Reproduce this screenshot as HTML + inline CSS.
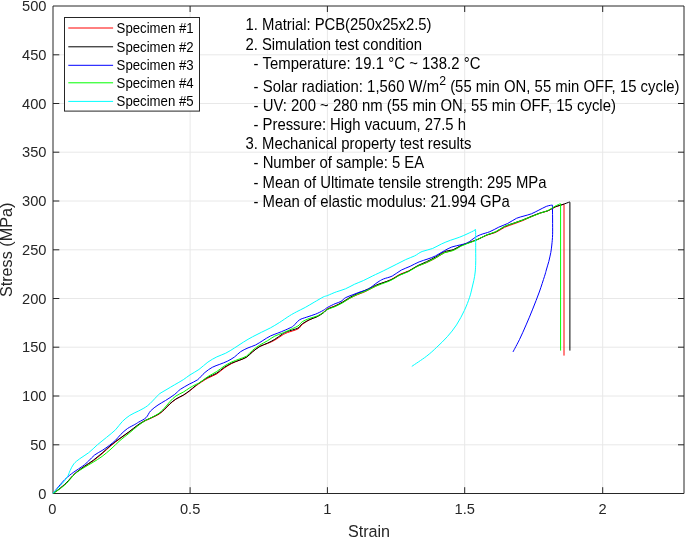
<!DOCTYPE html>
<html><head><meta charset="utf-8"><title>Stress-Strain</title>
<style>html,body{margin:0;padding:0;background:#fff;overflow:hidden}body{width:685px;height:538px;position:relative;font-family:"Liberation Sans",sans-serif}</style>
</head><body>
<svg width="685" height="538" viewBox="0 0 685 538" style="position:absolute;left:0;top:0;will-change:transform">
<rect x="0" y="0" width="685" height="538" fill="#ffffff"/>
<g stroke="#e8e8e8" stroke-width="1" fill="none">
<line x1="190.1" y1="6.0" x2="190.1" y2="493.5"/>
<line x1="327.4" y1="6.0" x2="327.4" y2="493.5"/>
<line x1="464.7" y1="6.0" x2="464.7" y2="493.5"/>
<line x1="602.7" y1="6.0" x2="602.7" y2="493.5"/>
<line x1="53.0" y1="444.8" x2="684.0" y2="444.8"/>
<line x1="53.0" y1="396.0" x2="684.0" y2="396.0"/>
<line x1="53.0" y1="347.2" x2="684.0" y2="347.2"/>
<line x1="53.0" y1="298.5" x2="684.0" y2="298.5"/>
<line x1="53.0" y1="249.8" x2="684.0" y2="249.8"/>
<line x1="53.0" y1="201.0" x2="684.0" y2="201.0"/>
<line x1="53.0" y1="152.2" x2="684.0" y2="152.2"/>
<line x1="53.0" y1="103.5" x2="684.0" y2="103.5"/>
<line x1="53.0" y1="54.8" x2="684.0" y2="54.8"/>
</g>
<path d="M53.0,6.0 H684.0 V493.5" stroke="#262626" stroke-width="1" fill="none"/>
<path d="M53.0,6.0 V493.5 H684.0" stroke="#262626" stroke-width="1" fill="none"/>
<g stroke="#262626" stroke-width="1" fill="none">
<line x1="190.1" y1="493.5" x2="190.1" y2="487.2"/>
<line x1="190.1" y1="6.0" x2="190.1" y2="12.0"/>
<line x1="327.4" y1="493.5" x2="327.4" y2="487.2"/>
<line x1="327.4" y1="6.0" x2="327.4" y2="12.0"/>
<line x1="464.7" y1="493.5" x2="464.7" y2="487.2"/>
<line x1="464.7" y1="6.0" x2="464.7" y2="12.0"/>
<line x1="602.7" y1="493.5" x2="602.7" y2="487.2"/>
<line x1="602.7" y1="6.0" x2="602.7" y2="12.0"/>
<line x1="53.0" y1="444.8" x2="59.3" y2="444.8"/>
<line x1="684.0" y1="444.8" x2="678.0" y2="444.8"/>
<line x1="53.0" y1="396.0" x2="59.3" y2="396.0"/>
<line x1="684.0" y1="396.0" x2="678.0" y2="396.0"/>
<line x1="53.0" y1="347.2" x2="59.3" y2="347.2"/>
<line x1="684.0" y1="347.2" x2="678.0" y2="347.2"/>
<line x1="53.0" y1="298.5" x2="59.3" y2="298.5"/>
<line x1="684.0" y1="298.5" x2="678.0" y2="298.5"/>
<line x1="53.0" y1="249.8" x2="59.3" y2="249.8"/>
<line x1="684.0" y1="249.8" x2="678.0" y2="249.8"/>
<line x1="53.0" y1="201.0" x2="59.3" y2="201.0"/>
<line x1="684.0" y1="201.0" x2="678.0" y2="201.0"/>
<line x1="53.0" y1="152.2" x2="59.3" y2="152.2"/>
<line x1="684.0" y1="152.2" x2="678.0" y2="152.2"/>
<line x1="53.0" y1="103.5" x2="59.3" y2="103.5"/>
<line x1="684.0" y1="103.5" x2="678.0" y2="103.5"/>
<line x1="53.0" y1="54.8" x2="59.3" y2="54.8"/>
<line x1="684.0" y1="54.8" x2="678.0" y2="54.8"/>
</g>
<path d="M53.0,493.3 C54.0,492.6 56.7,490.9 58.9,489.2 C61.1,487.4 63.7,485.4 66.4,482.7 C69.1,480.1 72.3,476.0 75.3,473.4 C78.3,470.7 81.2,469.0 84.2,466.9 C87.2,464.8 90.2,463.1 93.2,460.9 C96.2,458.7 99.1,456.3 102.1,453.7 C105.1,451.2 108.0,448.1 111.0,445.6 C114.0,443.1 116.9,440.9 119.9,438.7 C122.9,436.5 125.9,434.4 128.9,432.2 C131.9,430.0 135.1,427.2 137.8,425.3 C140.5,423.4 143.3,421.9 145.2,420.8 C147.1,419.8 147.0,420.1 149.1,419.1 C151.2,418.1 155.5,416.2 158.0,414.7 C160.5,413.2 162.0,411.9 164.0,410.1 C166.0,408.3 167.9,405.8 169.9,404.0 C171.9,402.2 173.7,400.7 175.9,399.2 C178.1,397.8 181.1,396.6 183.3,395.3 C185.5,393.9 187.3,392.7 189.3,391.2 C191.3,389.7 193.4,387.8 195.2,386.4 C197.0,385.1 197.9,384.4 200.0,383.0 C202.1,381.6 205.1,379.6 207.9,378.1 C210.7,376.6 214.1,375.6 216.8,373.9 C219.5,372.2 221.7,369.8 224.2,368.1 C226.7,366.4 229.2,364.8 231.7,363.5 C234.2,362.2 236.6,361.4 239.1,360.4 C241.6,359.3 244.3,358.5 246.5,357.1 C248.7,355.6 250.3,353.5 252.5,351.7 C254.7,349.9 257.4,347.8 259.9,346.4 C262.4,345.0 264.9,344.6 267.4,343.5 C269.9,342.5 272.3,341.5 274.8,340.1 C277.3,338.7 280.2,336.4 282.3,335.2 C284.4,333.9 284.8,333.7 287.4,332.6 C290.0,331.6 295.4,330.3 297.9,329.0 C300.4,327.6 300.3,326.0 302.3,324.5 C304.3,322.9 307.3,321.0 309.8,319.7 C312.3,318.4 315.0,317.6 317.2,316.4 C319.4,315.2 321.5,313.8 323.2,312.5 C324.9,311.3 325.6,309.9 327.6,308.8 C329.6,307.7 332.6,306.9 335.1,305.9 C337.6,304.8 340.0,303.7 342.5,302.4 C345.0,301.1 347.4,299.5 349.9,298.2 C352.4,296.9 354.9,295.8 357.4,294.7 C359.9,293.7 362.3,292.9 364.8,291.8 C367.3,290.7 370.0,289.1 372.3,287.9 C374.6,286.7 375.8,286.0 378.9,284.6 C382.0,283.2 387.3,281.4 390.8,279.7 C394.3,278.0 396.8,275.9 399.8,274.4 C402.8,273.0 405.7,272.3 408.7,270.9 C411.7,269.5 414.6,267.4 417.6,266.1 C420.6,264.7 423.5,264.0 426.5,262.6 C429.5,261.3 432.5,259.8 435.5,258.2 C438.5,256.5 441.4,254.1 444.4,252.7 C447.4,251.4 450.6,251.4 453.3,250.2 C456.0,249.0 458.2,247.0 460.8,245.8 C463.4,244.5 466.0,243.6 468.9,242.5 C471.8,241.4 474.9,240.5 477.9,239.2 C480.9,238.0 483.8,236.2 486.8,235.1 C489.8,233.9 492.7,233.7 495.7,232.4 C498.7,231.1 501.6,228.7 504.6,227.3 C507.6,225.9 510.6,225.1 513.6,224.0 C516.6,222.9 519.5,221.9 522.5,220.7 C525.5,219.5 528.4,218.0 531.4,216.7 C534.4,215.5 537.7,214.0 540.4,213.0 C543.1,212.1 545.3,211.9 547.8,210.9 C550.3,209.9 552.6,208.1 555.2,207.0 C557.8,206.0 562.0,204.8 563.4,204.4 L564.0,204.3 L564.0,355.6" fill="none" stroke="#ff0000" stroke-width="1.0" stroke-linejoin="round"/>
<path d="M53.0,493.3 C54.0,492.6 56.7,491.0 58.9,489.3 C61.1,487.5 63.7,485.5 66.4,482.8 C69.1,480.1 72.3,475.9 75.3,473.2 C78.3,470.5 81.2,468.6 84.2,466.4 C87.2,464.3 90.2,462.5 93.2,460.3 C96.2,458.0 99.1,455.6 102.1,453.1 C105.1,450.5 108.0,447.5 111.0,445.0 C114.0,442.6 116.9,440.5 119.9,438.3 C122.9,436.1 125.9,434.1 128.9,431.9 C131.9,429.7 135.1,426.9 137.8,425.0 C140.5,423.1 143.3,421.4 145.2,420.4 C147.1,419.4 147.0,419.7 149.1,418.7 C151.2,417.7 155.5,415.8 158.0,414.3 C160.5,412.8 162.0,411.5 164.0,409.7 C166.0,408.0 167.9,405.5 169.9,403.7 C171.9,401.9 173.7,400.5 175.9,399.0 C178.1,397.6 181.1,396.4 183.3,395.1 C185.5,393.7 187.3,392.4 189.3,390.9 C191.3,389.4 193.4,387.4 195.2,386.0 C197.0,384.6 197.9,383.9 200.0,382.4 C202.1,381.0 205.1,378.9 207.9,377.3 C210.7,375.8 214.1,374.7 216.8,373.1 C219.5,371.4 221.7,369.1 224.2,367.4 C226.7,365.8 229.2,364.3 231.7,363.1 C234.2,361.9 236.6,361.3 239.1,360.3 C241.6,359.3 244.3,358.6 246.5,357.2 C248.7,355.8 250.3,353.7 252.5,351.9 C254.7,350.1 257.4,347.9 259.9,346.4 C262.4,345.0 264.9,344.4 267.4,343.2 C269.9,342.0 272.3,340.9 274.8,339.3 C277.3,337.8 280.2,335.4 282.3,334.1 C284.4,332.8 284.8,332.5 287.4,331.5 C290.0,330.5 295.4,329.3 297.9,328.1 C300.4,326.8 300.3,325.2 302.3,323.8 C304.3,322.4 307.3,320.7 309.8,319.5 C312.3,318.4 315.0,317.8 317.2,316.7 C319.4,315.6 321.5,314.2 323.2,313.0 C324.9,311.8 325.6,310.4 327.6,309.2 C329.6,308.1 332.6,307.3 335.1,306.1 C337.6,304.9 340.0,303.6 342.5,302.1 C345.0,300.7 347.4,298.8 349.9,297.4 C352.4,295.9 354.9,294.7 357.4,293.5 C359.9,292.4 362.3,291.6 364.8,290.5 C367.3,289.4 370.0,288.0 372.3,286.9 C374.6,285.9 375.8,285.2 378.9,284.0 C382.0,282.9 387.3,281.4 390.8,279.9 C394.3,278.4 396.8,276.3 399.8,274.9 C402.8,273.4 405.7,272.7 408.7,271.2 C411.7,269.6 414.6,267.3 417.6,265.7 C420.6,264.2 423.5,263.2 426.5,261.7 C429.5,260.3 432.5,258.7 435.5,257.0 C438.5,255.3 441.4,252.9 444.4,251.7 C447.4,250.5 450.6,250.6 453.3,249.6 C456.0,248.6 458.2,246.8 460.8,245.6 C463.4,244.5 466.0,243.7 468.9,242.7 C471.8,241.7 474.9,240.7 477.9,239.4 C480.9,238.2 483.8,236.2 486.8,235.0 C489.8,233.7 492.7,233.4 495.7,231.9 C498.7,230.5 501.6,227.9 504.6,226.5 C507.6,225.0 510.6,224.2 513.6,223.2 C516.6,222.1 519.5,221.1 522.5,220.0 C525.5,218.9 528.4,217.5 531.4,216.3 C534.4,215.2 537.7,213.8 540.4,212.9 C543.1,211.9 545.3,211.8 547.8,210.8 C550.3,209.8 552.7,207.9 555.2,206.8 C557.7,205.8 560.6,205.2 563.0,204.4 C565.4,203.6 568.4,202.4 569.5,202.0 L569.9,202.2 L569.9,350.6" fill="none" stroke="#000000" stroke-width="1.0" stroke-linejoin="round"/>
<path d="M53.0,493.3 C55.0,491.0 61.4,483.0 64.9,479.5 C68.4,476.0 70.8,474.3 73.8,472.1 C76.8,469.9 80.2,468.0 82.7,466.1 C85.2,464.2 86.7,462.8 88.7,460.9 C90.7,459.0 92.4,456.7 94.6,455.0 C96.8,453.3 99.6,452.1 102.1,450.5 C104.6,448.9 107.3,447.0 109.5,445.3 C111.7,443.6 113.6,442.1 115.5,440.3 C117.4,438.5 118.8,436.3 120.8,434.4 C122.8,432.4 125.1,430.2 127.4,428.6 C129.7,427.0 132.9,425.6 134.8,424.5 C136.7,423.4 136.8,423.2 138.7,422.1 C140.6,421.0 144.1,419.5 146.1,417.6 C148.1,415.7 148.6,413.0 150.6,410.9 C152.6,408.8 155.5,406.7 158.0,405.0 C160.5,403.3 162.8,402.2 165.5,400.5 C168.2,398.8 171.9,396.5 174.4,394.6 C176.9,392.7 177.9,391.1 180.4,389.3 C182.9,387.6 186.5,385.7 189.3,384.1 C192.1,382.5 194.8,381.8 197.4,379.9 C200.0,378.0 202.4,374.6 204.9,372.5 C207.4,370.4 209.8,368.7 212.3,367.3 C214.8,365.9 217.3,365.3 219.8,364.3 C222.3,363.3 224.7,362.5 227.2,361.3 C229.7,360.1 232.4,358.5 234.6,356.9 C236.8,355.3 238.4,353.2 240.6,351.7 C242.8,350.2 245.5,349.0 248.0,347.9 C250.5,346.8 253.0,346.2 255.5,345.0 C258.0,343.8 260.4,342.0 262.9,340.5 C265.4,339.0 267.9,337.2 270.4,336.0 C272.9,334.8 275.3,334.1 277.8,333.1 C280.3,332.1 283.2,331.0 285.2,330.1 C287.2,329.2 288.6,328.6 290.0,327.9 C291.4,327.2 291.8,327.3 293.4,326.0 C294.9,324.7 297.1,321.5 299.3,320.0 C301.5,318.5 304.1,318.1 306.8,317.1 C309.5,316.1 313.0,315.2 315.7,314.1 C318.4,313.0 321.2,311.5 323.2,310.4 C325.2,309.3 325.6,308.5 327.6,307.4 C329.6,306.3 332.9,304.7 335.1,303.7 C337.3,302.7 339.3,302.4 341.0,301.4 C342.7,300.4 343.5,298.8 345.5,297.7 C347.5,296.6 350.4,295.7 352.9,294.7 C355.4,293.7 357.9,292.7 360.4,291.8 C362.9,290.9 365.6,290.6 367.8,289.5 C370.0,288.4 372.1,286.4 373.8,285.1 C375.5,283.9 376.4,283.0 378.0,282.0 C379.6,281.0 381.0,280.0 383.4,279.0 C385.8,278.0 389.3,277.5 392.3,276.0 C395.3,274.5 398.3,271.7 401.3,270.1 C404.3,268.5 407.2,267.7 410.2,266.3 C413.2,264.9 416.1,263.1 419.1,261.9 C422.1,260.7 425.3,259.9 428.0,258.9 C430.7,257.9 432.8,257.3 435.5,255.9 C438.2,254.5 441.7,252.2 444.4,250.7 C447.1,249.2 449.1,248.0 451.8,247.0 C454.5,246.0 458.2,245.5 460.8,244.8 C463.4,244.1 465.0,244.0 467.4,242.8 C469.8,241.6 472.7,239.0 474.9,237.6 C477.1,236.2 478.3,235.6 480.8,234.6 C483.3,233.6 486.8,232.9 489.8,231.7 C492.8,230.5 495.7,228.6 498.7,227.2 C501.7,225.8 504.6,225.0 507.6,223.5 C510.6,222.0 513.8,219.6 516.5,218.3 C519.2,217.1 521.5,216.8 524.0,216.0 C526.5,215.2 528.9,214.8 531.4,213.8 C533.9,212.8 536.4,211.3 538.9,210.1 C541.4,208.9 544.3,207.2 546.3,206.4 C548.2,205.6 549.6,205.5 550.6,205.3 C551.6,205.1 552.1,205.1 552.4,205.1 C552.4,205.9 552.5,207.5 552.5,210.0 C552.5,212.5 552.6,215.9 552.6,220.0 C552.6,224.1 552.7,230.4 552.6,234.6 C552.5,238.8 552.1,242.0 551.8,245.0 C551.5,248.0 551.3,249.8 550.8,252.5 C550.3,255.2 549.5,258.6 548.8,261.5 C548.0,264.4 547.0,267.5 546.3,270.0 C545.6,272.5 545.7,272.6 544.5,276.3 C543.3,280.0 541.3,286.5 539.3,292.0 C537.3,297.5 534.9,303.6 532.7,309.1 C530.5,314.6 528.3,319.9 526.1,324.9 C523.9,329.9 521.8,334.8 519.6,339.3 C517.4,343.8 514.1,349.8 513.0,351.9" fill="none" stroke="#0000ff" stroke-width="1.0" stroke-linejoin="round"/>
<path d="M53.0,493.3 C54.0,492.7 56.7,491.3 58.9,489.6 C61.1,488.0 63.7,486.1 66.4,483.5 C69.1,480.8 72.3,476.3 75.3,473.6 C78.3,471.0 81.2,469.4 84.2,467.5 C87.2,465.6 90.2,464.1 93.2,462.2 C96.2,460.4 99.1,458.6 102.1,456.4 C105.1,454.2 108.0,451.6 111.0,449.0 C114.0,446.4 116.9,443.2 119.9,440.6 C122.9,438.0 125.9,435.8 128.9,433.4 C131.9,430.9 135.1,428.0 137.8,425.9 C140.5,423.8 143.3,421.9 145.2,420.7 C147.1,419.6 147.0,419.9 149.1,418.8 C151.2,417.6 155.5,415.6 158.0,413.9 C160.5,412.2 162.0,410.6 164.0,408.5 C166.0,406.5 167.9,403.7 169.9,401.6 C171.9,399.5 173.7,397.6 175.9,396.0 C178.1,394.4 181.1,393.5 183.3,392.1 C185.5,390.8 187.3,389.3 189.3,388.1 C191.3,386.9 193.4,385.7 195.2,384.8 C197.0,383.8 197.9,383.8 200.0,382.4 C202.1,381.0 205.1,378.4 207.9,376.6 C210.7,374.7 214.1,373.2 216.8,371.5 C219.5,369.7 221.7,367.7 224.2,366.1 C226.7,364.5 229.2,363.2 231.7,362.0 C234.2,360.8 236.6,360.1 239.1,359.1 C241.6,358.1 244.3,357.5 246.5,356.1 C248.7,354.6 250.3,352.2 252.5,350.3 C254.7,348.5 257.4,346.6 259.9,345.0 C262.4,343.4 264.9,342.3 267.4,340.8 C269.9,339.3 272.3,337.4 274.8,336.1 C277.3,334.9 280.2,334.0 282.3,333.1 C284.4,332.2 284.8,332.1 287.4,330.9 C290.0,329.7 295.4,327.5 297.9,326.0 C300.4,324.5 300.3,323.0 302.3,321.7 C304.3,320.5 307.3,319.2 309.8,318.3 C312.3,317.3 315.0,317.0 317.2,316.0 C319.4,315.1 321.5,313.7 323.2,312.6 C324.9,311.5 325.6,310.4 327.6,309.4 C329.6,308.4 332.6,307.7 335.1,306.6 C337.6,305.5 340.0,304.3 342.5,302.9 C345.0,301.5 347.4,299.6 349.9,298.2 C352.4,296.8 354.9,295.6 357.4,294.4 C359.9,293.3 362.3,292.5 364.8,291.5 C367.3,290.4 370.0,289.0 372.3,287.9 C374.6,286.8 375.8,286.2 378.9,285.0 C382.0,283.7 387.3,282.1 390.8,280.4 C394.3,278.8 396.8,276.7 399.8,275.2 C402.8,273.7 405.7,273.0 408.7,271.5 C411.7,270.0 414.6,267.8 417.6,266.3 C420.6,264.8 423.5,264.0 426.5,262.6 C429.5,261.2 432.5,259.7 435.5,258.1 C438.5,256.4 441.4,254.1 444.4,252.8 C447.4,251.6 450.6,251.6 453.3,250.5 C456.0,249.5 458.2,247.5 460.8,246.3 C463.4,245.0 466.0,244.2 468.9,243.0 C471.8,241.9 474.9,240.8 477.9,239.4 C480.9,238.1 483.8,236.1 486.8,234.8 C489.8,233.5 492.7,233.2 495.7,231.8 C498.7,230.4 501.6,227.8 504.6,226.4 C507.6,225.0 510.6,224.3 513.6,223.3 C516.6,222.3 519.5,221.3 522.5,220.2 C525.5,219.1 528.4,217.9 531.4,216.7 C534.4,215.5 537.7,214.1 540.4,213.1 C543.1,212.1 545.3,211.7 547.8,210.6 C550.3,209.4 553.1,207.3 555.2,206.1 C557.3,205.0 559.4,204.1 560.2,203.7 L560.6,203.8 L560.6,350.6" fill="none" stroke="#00ff00" stroke-width="1.0" stroke-linejoin="round"/>
<path d="M53.0,493.3 C54.2,492.0 58.0,488.2 60.4,485.5 C62.8,482.8 65.5,479.8 67.1,477.3 C68.7,474.8 69.0,472.8 70.1,470.6 C71.2,468.4 72.2,465.9 73.8,463.9 C75.4,461.9 77.3,460.6 79.8,458.7 C82.3,456.8 85.7,455.0 88.7,452.7 C91.7,450.4 94.6,447.2 97.6,444.6 C100.6,442.1 103.5,439.9 106.5,437.4 C109.5,434.9 112.9,432.4 115.5,429.8 C118.1,427.2 119.9,423.9 122.3,421.5 C124.7,419.1 127.1,417.2 129.8,415.4 C132.5,413.6 135.7,412.5 138.7,410.9 C141.7,409.3 144.6,408.0 147.6,405.7 C150.6,403.4 154.5,398.8 156.5,396.8 C158.5,394.8 157.8,395.1 159.5,393.8 C161.2,392.6 164.5,390.8 167.0,389.3 C169.5,387.8 171.7,386.5 174.4,384.9 C177.1,383.3 180.7,381.4 183.3,379.7 C185.9,378.0 187.4,376.6 190.0,374.9 C192.6,373.2 195.9,371.6 198.9,369.5 C201.9,367.4 204.9,364.2 207.9,362.1 C210.9,360.0 213.8,358.4 216.8,356.9 C219.8,355.4 222.7,354.7 225.7,353.2 C228.7,351.7 231.6,349.8 234.6,347.9 C237.6,346.0 240.6,343.9 243.6,342.0 C246.6,340.1 249.5,338.4 252.5,336.8 C255.5,335.2 258.4,333.8 261.4,332.3 C264.4,330.8 267.4,329.5 270.4,327.9 C273.4,326.3 276.1,324.6 279.3,322.6 C282.5,320.6 286.6,317.6 289.5,315.8 C292.4,314.0 293.8,313.3 296.4,311.9 C299.0,310.5 302.3,309.0 305.3,307.4 C308.3,305.8 311.2,303.9 314.2,302.2 C317.2,300.5 321.0,298.1 323.2,297.0 C325.4,295.9 325.4,296.4 327.6,295.5 C329.8,294.6 333.5,292.9 336.5,291.8 C339.5,290.7 342.5,290.1 345.5,288.8 C348.5,287.6 351.4,285.7 354.4,284.3 C357.4,282.9 360.3,282.0 363.3,280.6 C366.3,279.2 369.7,277.4 372.3,276.1 C374.9,274.8 376.3,274.2 378.9,273.0 C381.5,271.8 384.9,270.1 387.9,268.6 C390.9,267.1 393.8,265.6 396.8,264.1 C399.8,262.6 402.7,261.0 405.7,259.6 C408.7,258.2 411.9,257.2 414.6,255.9 C417.3,254.6 419.1,252.7 422.1,251.5 C425.1,250.3 429.3,249.8 432.5,248.5 C435.7,247.2 438.4,245.4 441.4,244.0 C444.4,242.6 447.4,241.4 450.4,240.3 C453.4,239.2 456.5,238.4 459.3,237.3 C462.1,236.2 464.4,235.2 467.0,234.0 C469.6,232.8 473.6,230.8 474.9,230.2 C475.0,230.3 475.5,227.5 475.6,230.8 C475.7,234.1 475.7,244.6 475.7,250.0 C475.7,255.4 475.8,259.3 475.7,263.0 C475.6,266.7 475.5,269.1 475.2,272.0 C474.9,274.9 474.4,277.7 473.8,280.5 C473.2,283.3 472.5,286.2 471.8,289.0 C471.1,291.8 470.8,293.7 469.6,297.3 C468.4,300.9 466.6,305.8 464.4,310.4 C462.2,315.0 459.4,320.5 456.5,324.9 C453.6,329.3 450.6,333.0 447.3,336.7 C444.0,340.4 440.3,343.9 436.8,347.2 C433.3,350.5 430.5,353.2 426.3,356.4 C422.1,359.6 414.2,364.7 411.8,366.4" fill="none" stroke="#00ffff" stroke-width="1.0" stroke-linejoin="round"/>
<g font-family="'Liberation Sans', sans-serif" font-size="14.67px" fill="#262626">
<text x="46.5" y="498.7" text-anchor="end">0</text>
<text x="46.5" y="449.9" text-anchor="end">50</text>
<text x="46.5" y="401.2" text-anchor="end">100</text>
<text x="46.5" y="352.4" text-anchor="end">150</text>
<text x="46.5" y="303.7" text-anchor="end">200</text>
<text x="46.5" y="254.9" text-anchor="end">250</text>
<text x="46.5" y="206.2" text-anchor="end">300</text>
<text x="46.5" y="157.4" text-anchor="end">350</text>
<text x="46.5" y="108.7" text-anchor="end">400</text>
<text x="46.5" y="60.0" text-anchor="end">450</text>
<text x="46.5" y="11.2" text-anchor="end">500</text>
<text x="52.4" y="514.2" text-anchor="middle">0</text>
<text x="190.1" y="514.2" text-anchor="middle">0.5</text>
<text x="327.4" y="514.2" text-anchor="middle">1</text>
<text x="464.7" y="514.2" text-anchor="middle">1.5</text>
<text x="602.7" y="514.2" text-anchor="middle">2</text>
</g>
<g font-family="'Liberation Sans', sans-serif" font-size="16px" fill="#262626">
<text x="369" y="536.6" text-anchor="middle" font-size="16.15px">Strain</text>
<text transform="translate(12.3,249.9) rotate(-90)" text-anchor="middle" font-size="16.2px">Stress (MPa)</text>
</g>
<rect x="64.5" y="17.5" width="135" height="93.6" fill="#ffffff" stroke="#262626" stroke-width="1"/>
<g font-family="'Liberation Sans', sans-serif" font-size="13.2px" fill="#000000">
<line x1="68.3" y1="28.0" x2="113.1" y2="28.0" stroke="#ff0000" stroke-width="1"/>
<text x="116.6" y="0" transform="translate(0 33.0) scale(1 1.05)">Specimen #1</text>
<line x1="68.3" y1="46.8" x2="113.1" y2="46.8" stroke="#000000" stroke-width="1"/>
<text x="116.6" y="0" transform="translate(0 51.8) scale(1 1.05)">Specimen #2</text>
<line x1="68.3" y1="65.3" x2="113.1" y2="65.3" stroke="#0000ff" stroke-width="1"/>
<text x="116.6" y="0" transform="translate(0 70.3) scale(1 1.05)">Specimen #3</text>
<line x1="68.3" y1="82.8" x2="113.1" y2="82.8" stroke="#00ff00" stroke-width="1"/>
<text x="116.6" y="0" transform="translate(0 87.8) scale(1 1.05)">Specimen #4</text>
<line x1="68.3" y1="101.4" x2="113.1" y2="101.4" stroke="#00ffff" stroke-width="1"/>
<text x="116.6" y="0" transform="translate(0 106.4) scale(1 1.05)">Specimen #5</text>
</g>
<g font-family="'Liberation Sans', sans-serif" font-size="14.87px" fill="#000000">
<text x="245.6" y="0" transform="translate(0 30.35) scale(1 1.06)" textLength="185.96" lengthAdjust="spacing">1. Matrial: PCB(250x25x2.5)</text>
<text x="245.6" y="0" transform="translate(0 50.1) scale(1 1.06)" textLength="176.39" lengthAdjust="spacing">2. Simulation test condition</text>
<text x="253.6" y="0" transform="translate(0 68.9) scale(1 1.06)" textLength="226.83" lengthAdjust="spacing">- Temperature: 19.1 °C ~ 138.2 °C</text>
<text x="253.6" y="0" transform="translate(0 91.8) scale(1 1.06)" textLength="425.90" lengthAdjust="spacing">- Solar radiation: 1,560 W/m<tspan font-size="12.3px" dy="-6.8">2</tspan><tspan dy="6.8"> (55 min ON, 55 min OFF, 15 cycle)</tspan></text>
<text x="253.6" y="0" transform="translate(0 111.0) scale(1 1.06)" textLength="362.28" lengthAdjust="spacing">- UV: 200 ~ 280 nm (55 min ON, 55 min OFF, 15 cycle)</text>
<text x="253.6" y="0" transform="translate(0 130.2) scale(1 1.06)" textLength="212.39" lengthAdjust="spacing">- Pressure: High vacuum, 27.5 h</text>
<text x="245.6" y="0" transform="translate(0 149.3) scale(1 1.06)" textLength="225.80" lengthAdjust="spacing">3. Mechanical property test results</text>
<text x="253.6" y="0" transform="translate(0 167.8) scale(1 1.06)" textLength="170.55" lengthAdjust="spacing">- Number of sample: 5 EA</text>
<text x="253.6" y="0" transform="translate(0 187.6) scale(1 1.06)" textLength="292.83" lengthAdjust="spacing">- Mean of Ultimate tensile strength: 295 MPa</text>
<text x="253.6" y="0" transform="translate(0 206.5) scale(1 1.06)" textLength="256.09" lengthAdjust="spacing">- Mean of elastic modulus: 21.994 GPa</text>
</g>
</svg>
</body></html>
